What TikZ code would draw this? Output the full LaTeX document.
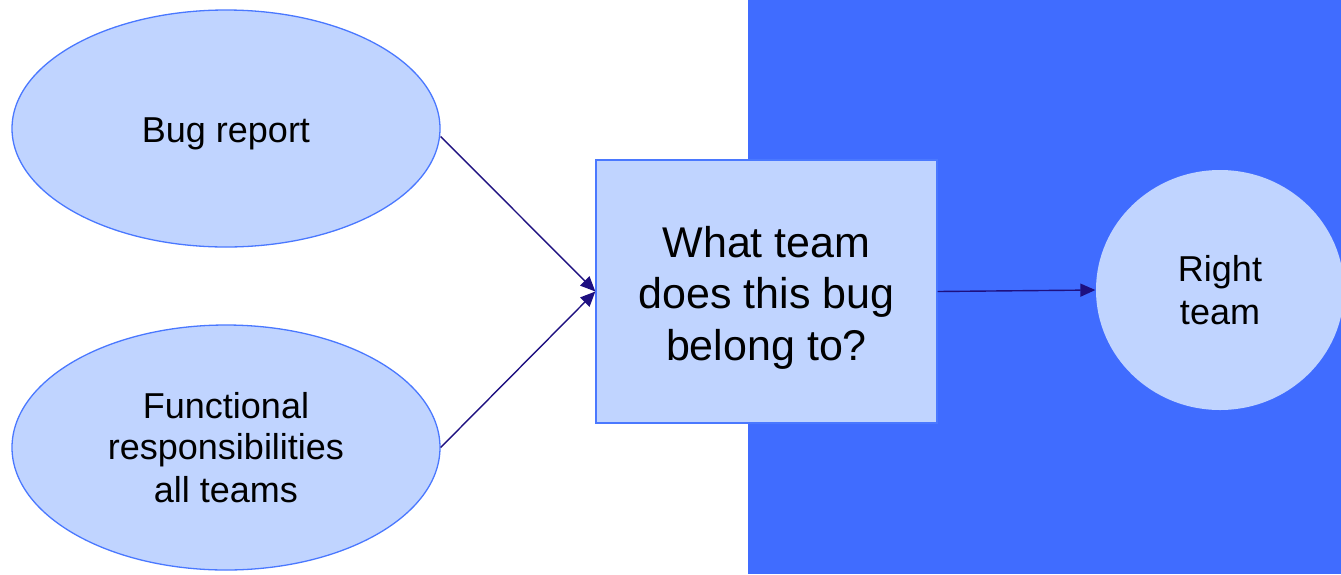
\documentclass[tikz,border=0pt]{standalone}
\usepackage{fontspec}
\setmainfont{Liberation Sans}
\usetikzlibrary{shapes.geometric,arrows.meta}
\definecolor{bgblue}{HTML}{406CFF}
\definecolor{lightfill}{HTML}{C0D4FF}
\definecolor{edgeblue}{HTML}{4A78FF}
\definecolor{arrowcol}{HTML}{1E1080}
\tikzset{
  oval/.style={ellipse, fill=lightfill, draw=edgeblue, line width=1.3pt, inner sep=0pt, align=center, font=\fontsize{36}{43}\selectfont},
  qbox/.style={rectangle, fill=lightfill, draw=edgeblue, line width=1.3pt, inner sep=0pt},
  qtext/.style={align=center, font=\fontsize{43}{51.5}\selectfont, yshift=-6pt},
  conn/.style={draw=arrowcol, line width=1.4pt, -{Triangle[length=15pt,width=13pt]}}
}
\begin{document}
\begin{tikzpicture}[x=1pt,y=-1pt]
\useasboundingbox (0,0) rectangle (1341,574);
\fill[bgblue] (748,0) rectangle (1341,574);
\node[oval, minimum width=428pt, minimum height=237pt, text depth=0pt] (bug) at (226,128.5) {\raisebox{-3pt}{Bug report}};
\node[oval, minimum width=428pt, minimum height=245pt] (func) at (226,447.5) {\raisebox{-2pt}{Functional}\\responsibilities\\all teams};
\node[qbox, minimum width=341pt, minimum height=263pt,
  label={[qtext]center:What team\\does this bug\\belong to?}] (q) at (766.5,291.5) {};
\node[oval, draw=none, minimum width=248pt, minimum height=240pt] (right) at (1220,290) {Right\\team};
\coordinate (qin) at (q.west);
\draw[conn] (bug.east) ++(0,8) coordinate (bs) -- (qin);
\draw[conn] (func.east) -- (qin);
\draw[conn] (q.east) -- (right.west);
\end{tikzpicture}
\end{document}
